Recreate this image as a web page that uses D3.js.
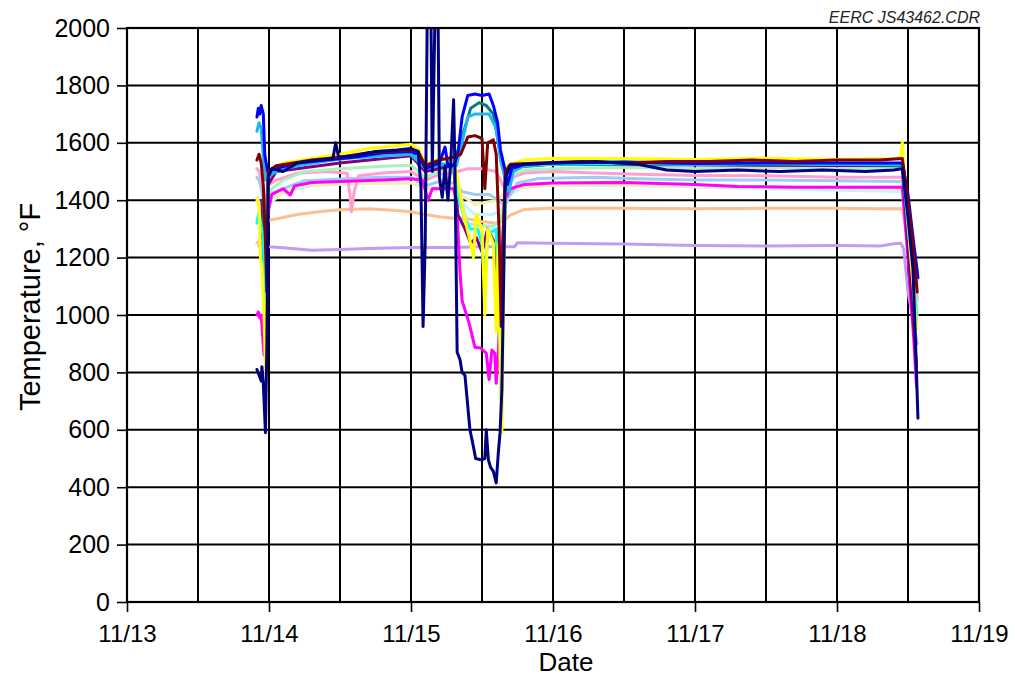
<!DOCTYPE html>
<html><head><meta charset="utf-8">
<script src="https://cdn.jsdelivr.net/npm/d3@7"></script>
<style>body{margin:0;background:#fff}svg{display:block}</style>
</head><body><svg id="c" width="1015" height="676"></svg>
<script>
// ---------- data (x = days after 11/13 00:00, y = °F) ----------
const xTickLabels = ["11/13","11/14","11/15","11/16","11/17","11/18","11/19"];
const yTickValues = [0,200,400,600,800,1000,1200,1400,1600,1800,2000];

const lavender = [[0.93,1240],[0.95,1248],[0.97,1240],[1.0,1238],[1.1,1234],[1.3,1226],[1.5,1228],[1.7,1232],[2.0,1235],[2.3,1235],[2.5,1238],[2.73,1238],[2.75,1252],[3.0,1250],[3.3,1248],[3.5,1247],[4.0,1242],[4.5,1240],[5.0,1242],[5.3,1240],[5.4,1248],[5.45,1250],[5.47,1230],[5.5,1080],[5.565,900]];
const peach = [[0.915,1250],[0.93,1258],[0.945,1270],[0.96,1300],[0.98,1318],[1.0,1330],[1.1,1340],[1.2,1350],[1.35,1360],[1.5,1367],[1.7,1370],[1.85,1366],[2.0,1360],[2.1,1350],[2.2,1342],[2.3,1337],[2.4,1335],[2.5,1326],[2.6,1320],[2.65,1328],[2.7,1348],[2.8,1368],[3.0,1373],[3.5,1372],[4.0,1370],[4.5,1372],[5.0,1372],[5.3,1370],[5.46,1370],[5.5,1250],[5.54,1120],[5.565,1050]];
const lightCyan = [[0.93,1350],[0.96,1330],[0.99,1380],[1.1,1430],[1.3,1450],[1.6,1458],[2.0,1462],[2.1,1440],[2.3,1450],[2.38,1380],[2.45,1350],[2.58,1350],[2.64,1370],[2.7,1420],[2.8,1450],[3.5,1452],[4.5,1440],[5.46,1430],[5.5,1250],[5.56,970]];
const paleYellow = [[0.92,1410],[0.95,1330],[0.98,1330],[1.0,1400],[1.2,1450],[1.6,1458],[2.0,1460],[2.1,1440],[2.3,1450],[2.35,1420],[2.45,1385],[2.6,1400],[2.7,1440],[3.0,1455],[4.0,1450],[5.46,1440],[5.5,1250],[5.56,980]];
const lightBlue = [[0.915,1480],[0.93,1470],[0.945,1440],[0.96,1400],[0.98,1380],[1.0,1420],[1.1,1440],[1.25,1468],[1.5,1474],[1.8,1480],[2.0,1480],[2.1,1450],[2.2,1465],[2.3,1460],[2.36,1430],[2.45,1420],[2.55,1420],[2.62,1400],[2.66,1380],[2.7,1420],[2.75,1460],[2.9,1476],[3.3,1480],[3.6,1475],[4.0,1470],[4.5,1470],[5.0,1468],[5.46,1465],[5.5,1300],[5.54,1100],[5.56,980]];
const pink = [[0.915,1510],[0.93,1500],[0.945,1470],[0.96,1430],[0.975,1360],[0.99,1450],[1.05,1470],[1.2,1494],[1.4,1500],[1.55,1494],[1.57,1420],[1.58,1360],[1.6,1430],[1.63,1485],[1.8,1495],[2.0,1500],[2.1,1470],[2.2,1490],[2.3,1496],[2.4,1510],[2.5,1510],[2.6,1500],[2.65,1450],[2.68,1440],[2.72,1480],[2.8,1495],[3.0,1500],[3.3,1495],[3.6,1490],[4.0,1486],[4.5,1485],[5.0,1480],[5.46,1480],[5.5,1340],[5.54,1170],[5.565,1060]];
const lightGreen = [[0.915,1330],[0.93,1350],[0.945,1320],[0.96,1300],[0.975,1260],[0.99,1400],[1.02,1440],[1.1,1470],[1.25,1500],[1.5,1510],[1.8,1518],[2.0,1522],[2.1,1480],[2.2,1500],[2.3,1505],[2.35,1400],[2.4,1320],[2.5,1310],[2.58,1310],[2.63,1330],[2.67,1420],[2.72,1490],[2.8,1505],[3.0,1510],[3.5,1515],[4.0,1510],[4.5,1515],[5.0,1510],[5.46,1510],[5.5,1350],[5.54,1150],[5.565,1000]];
const magenta = [[0.915,1000],[0.925,1010],[0.935,990],[0.945,1000],[0.955,930],[0.965,860],[0.975,880],[0.99,1350],[1.02,1420],[1.1,1440],[1.15,1418],[1.18,1450],[1.3,1462],[1.5,1465],[1.8,1470],[2.0,1475],[2.08,1470],[2.12,1400],[2.15,1440],[2.3,1440],[2.32,1400],[2.345,1150],[2.36,1050],[2.41,970],[2.45,888],[2.49,885],[2.53,867],[2.55,775],[2.57,878],[2.59,867],[2.6,762],[2.615,870],[2.64,1200],[2.66,1400],[2.7,1440],[2.8,1455],[3.0,1460],[3.5,1462],[4.0,1455],[4.3,1448],[4.7,1445],[5.0,1445],[5.46,1445],[5.5,1200],[5.54,920],[5.56,750]];
const purple = [[0.95,1400],[0.965,1100],[0.98,900],[0.99,1450],[1.05,1500],[1.5,1530],[2.0,1555],[2.1,1500],[2.3,1520],[2.33,1350],[2.38,1300],[2.42,1250],[2.46,1270],[2.5,1220],[2.54,1300],[2.58,1260],[2.6,1200],[2.62,1050],[2.635,870],[2.65,1200],[2.665,1490],[2.7,1520],[3.0,1525],[5.46,1520],[5.52,1100],[5.56,820]];
const teal = [[0.96,1400],[0.975,1000],[0.99,1490],[1.2,1525],[1.6,1550],[2.0,1565],[2.1,1515],[2.3,1525],[2.36,1620],[2.42,1720],[2.48,1740],[2.53,1730],[2.58,1700],[2.63,1560],[2.67,1490],[2.72,1515],[3.0,1525],[4.0,1525],[5.0,1525],[5.46,1520],[5.52,1250],[5.56,1100]];
const cyan = [[0.915,1320],[0.93,1360],[0.945,1310],[0.96,1280],[0.97,1050],[0.98,950],[0.99,1400],[1.0,1500],[1.1,1515],[1.3,1535],[1.6,1548],[2.0,1560],[2.1,1515],[2.2,1530],[2.3,1520],[2.34,1400],[2.38,1330],[2.42,1300],[2.47,1300],[2.5,1250],[2.52,1100],[2.54,1280],[2.6,1300],[2.62,1000],[2.635,700],[2.65,1100],[2.665,1450],[2.7,1520],[3.0,1525],[3.5,1528],[4.0,1525],[4.5,1528],[5.0,1525],[5.46,1525],[5.52,1200],[5.56,1000]];
const yellow = [[0.915,1400],[0.93,1380],[0.94,1200],[0.95,1170],[0.965,1000],[0.975,800],[0.985,1100],[0.995,1500],[1.1,1530],[1.3,1545],[1.5,1560],[1.7,1580],[2.0,1595],[2.05,1580],[2.1,1525],[2.2,1545],[2.3,1540],[2.33,1470],[2.36,1375],[2.41,1270],[2.44,1200],[2.46,1350],[2.5,1300],[2.52,1000],[2.54,1300],[2.58,1250],[2.6,940],[2.615,1250],[2.63,800],[2.64,590],[2.655,1200],[2.67,1520],[2.8,1540],[3.0,1546],[3.5,1545],[4.0,1542],[4.5,1546],[5.0,1542],[5.4,1545],[5.45,1550],[5.46,1605],[5.47,1520],[5.52,1200],[5.56,950]];
const skyBlue = [[0.915,1640],[0.93,1670],[0.945,1650],[0.96,1550],[0.975,1470],[0.99,1480],[1.05,1500],[1.2,1520],[1.5,1545],[1.8,1555],[2.0,1560],[2.1,1510],[2.2,1525],[2.32,1520],[2.36,1600],[2.4,1690],[2.45,1700],[2.55,1700],[2.6,1650],[2.63,1540],[2.66,1480],[2.69,1430],[2.72,1500],[2.8,1520],[3.0,1530],[3.5,1535],[4.0,1525],[4.5,1530],[5.0,1525],[5.46,1525],[5.5,1390],[5.54,1240],[5.565,1150]];
const blue = [[0.915,1690],[0.925,1720],[0.935,1700],[0.945,1730],[0.96,1700],[0.97,1560],[0.99,1500],[1.05,1510],[1.2,1530],[1.4,1540],[1.6,1550],[1.8,1565],[2.0,1570],[2.05,1560],[2.1,1510],[2.2,1530],[2.24,1585],[2.26,1520],[2.3,1520],[2.33,1560],[2.36,1690],[2.4,1765],[2.45,1770],[2.5,1765],[2.55,1770],[2.58,1730],[2.61,1670],[2.63,1575],[2.66,1510],[2.68,1455],[2.71,1510],[2.8,1525],[3.0,1530],[3.5,1532],[4.0,1528],[4.5,1530],[5.0,1530],[5.46,1530],[5.5,1420],[5.54,1250],[5.57,1130]];
const maroon = [[0.915,1540],[0.93,1560],[0.945,1530],[0.96,1450],[0.975,1250],[0.985,1080],[0.995,1500],[1.05,1520],[1.3,1540],[1.5,1550],[1.7,1565],[2.0,1575],[2.05,1570],[2.1,1520],[2.2,1540],[2.3,1550],[2.35,1560],[2.4,1620],[2.45,1625],[2.5,1615],[2.52,1440],[2.54,1600],[2.58,1610],[2.6,1560],[2.62,1300],[2.635,960],[2.65,1300],[2.665,1500],[2.7,1525],[2.9,1530],[3.2,1535],[3.5,1530],[3.8,1535],[4.1,1535],[4.4,1540],[4.7,1535],[5.0,1540],[5.3,1540],[5.46,1545],[5.5,1400],[5.54,1220],[5.565,1080]];
const navy = [[0.915,810],[0.93,790],[0.945,770],[0.95,820],[0.96,760],[0.975,590],[0.985,900],[0.995,1480],[1.02,1510],[1.1,1500],[1.2,1530],[1.35,1540],[1.45,1545],[1.47,1600],[1.49,1550],[1.6,1555],[1.75,1570],[1.9,1575],[2.0,1580],[2.05,1570],[2.07,1450],[2.085,960],[2.1,1250],[2.115,2080],[2.14,2080],[2.15,1500],[2.17,2080],[2.19,2080],[2.2,1480],[2.22,1410],[2.24,1520],[2.26,1400],[2.28,1530],[2.3,1750],[2.31,1500],[2.325,870],[2.345,845],[2.36,800],[2.38,790],[2.415,600],[2.44,540],[2.455,500],[2.5,495],[2.52,500],[2.53,600],[2.545,495],[2.56,470],[2.58,455],[2.6,415],[2.615,520],[2.627,590],[2.64,740],[2.655,1200],[2.665,1480],[2.7,1520],[2.8,1525],[3.0,1530],[3.3,1535],[3.6,1525],[3.8,1505],[4.0,1500],[4.3,1505],[4.6,1500],[4.9,1505],[5.2,1500],[5.4,1505],[5.46,1510],[5.5,1340],[5.535,1160],[5.55,950],[5.57,640]];

const seriesList = [
  {data: lavender, color: "#c39bf5"},
  {data: peach, color: "#fcbf8f"},
  {data: lightCyan, color: "#c4f4fb"},
  {data: paleYellow, color: "#f3f0a8"},
  {data: lightBlue, color: "#9ecbf7"},
  {data: pink, color: "#ff9fcf"},
  {data: lightGreen, color: "#aaf0c0"},
  {data: magenta, color: "#ff00ff"},
  {data: purple, color: "#800080"},
  {data: teal, color: "#008080"},
  {data: cyan, color: "#00ffff"},
  {data: yellow, color: "#ffff00"},
  {data: skyBlue, color: "#1fb5f5"},
  {data: blue, color: "#0000ff"},
  {data: maroon, color: "#800000"},
  {data: navy, color: "#000080"}
];

// ---------- drawing ----------
const svg = d3.select("#c");
const L = 127, R = 979, T = 28, B = 602;
const x = d3.scaleLinear().domain([0, 6]).range([L, R]);
const y = d3.scaleLinear().domain([0, 2000]).range([B, T]);
const font = "'Liberation Sans', Arial, sans-serif";

svg.append("rect").attr("width",1015).attr("height",676).attr("fill","#fff");

// grid
const g = svg.append("g");
g.selectAll(".vg").data(d3.range(1, 12).map(i => i * 0.5)).join("line")
  .attr("x1", d => x(d)).attr("x2", d => x(d)).attr("y1", T).attr("y2", B)
  .attr("stroke", "#000").attr("stroke-width", 2);
g.selectAll(".hg").data(yTickValues.slice(1)).join("line")
  .attr("x1", L).attr("x2", R).attr("y1", d => y(d)).attr("y2", d => y(d))
  .attr("stroke", "#000").attr("stroke-width", 2);

// series
svg.append("clipPath").attr("id", "pc").append("rect")
  .attr("x", L).attr("y", T).attr("width", R - L).attr("height", B - T);
const line = d3.line().x(d => x(d[0])).y(d => y(d[1]));
svg.append("g").attr("clip-path", "url(#pc)")
  .selectAll("path").data(seriesList).join("path")
  .attr("d", s => line(s.data)).attr("fill", "none")
  .attr("stroke", s => s.color).attr("stroke-width", 3)
  .attr("stroke-linejoin", "round").attr("stroke-linecap", "round");

// frame
svg.append("rect").attr("x", L).attr("y", T).attr("width", R - L).attr("height", B - T)
  .attr("fill", "none").attr("stroke", "#000").attr("stroke-width", 2.2);

// axes
const yAxis = svg.append("g").attr("transform", `translate(${L},0)`)
  .call(d3.axisLeft(y).tickValues(yTickValues).tickFormat(d3.format("d")).tickSize(10).tickPadding(7));
const xAxis = svg.append("g").attr("transform", `translate(0,${B})`)
  .call(d3.axisBottom(x).tickValues(d3.range(0, 7)).tickFormat(i => xTickLabels[i]).tickSize(10).tickPadding(13));
yAxis.selectAll("text").style("font-size", "25px");
xAxis.selectAll("text").style("font-size", "24px");
[yAxis, xAxis].forEach(a => {
  a.select(".domain").remove();
  a.selectAll(".tick line").attr("stroke", "#000").attr("stroke-width", 1.6);
  a.selectAll("text").attr("fill", "#000").style("font-family", font);
});

// titles
svg.append("text").attr("x", 566).attr("y", 670.5).attr("text-anchor", "middle")
  .style("font-family", font).style("font-size", "26px").text("Date");
svg.append("text").attr("transform", "translate(40,307) rotate(-90)").attr("text-anchor", "middle")
  .style("font-family", font).style("font-size", "29px").text("Temperature, °F");
svg.append("text").attr("x", 980).attr("y", 23).attr("text-anchor", "end")
  .style("font-family", font).style("font-size", "16px").style("font-style", "italic")
  .attr("fill", "#222").text("EERC JS43462.CDR");
</script></body></html>
